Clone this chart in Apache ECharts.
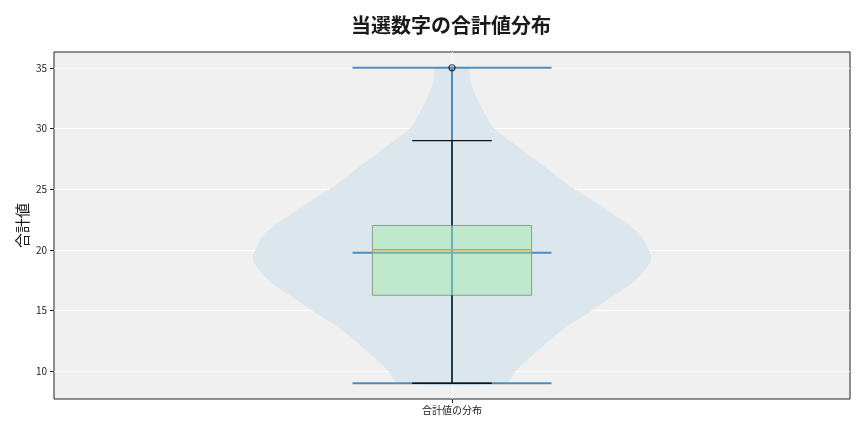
<!DOCTYPE html>
<html>
<head>
<meta charset="utf-8">
<script src="https://cdn.jsdelivr.net/npm/echarts@6/dist/echarts.min.js"></script>
<style>html,body{margin:0;padding:0;background:#fff}#c{width:864px;height:432px}</style>
</head>
<body>
<div id="c"></div>
<script>
// ---- data ----
const categories = ['合計値の分布'];
const titleText = '当選数字の合計値分布';
const yAxisName = '合計値';
// box plot statistics: lower whisker, Q1, median, Q3, upper whisker
const boxStats = [9, 16.25, 20, 22, 29];
const outliers = [35];
// violin extrema and mean
const violinMin = 9;
const violinMax = 35;
const violinMean = 19.75;
// violin outline: value and half-width (x data units)
const densityY = [9, 10, 11, 12, 13, 14, 15, 16, 17, 18, 19, 19.5, 20, 21, 22, 23, 24, 25, 26, 27, 28, 29, 30, 31, 32, 33, 34, 35];
const densityHalfWidth = [0.067, 0.080, 0.096, 0.113, 0.131, 0.152, 0.176, 0.198, 0.221, 0.238, 0.249, 0.250, 0.247, 0.239, 0.223, 0.200, 0.178, 0.153, 0.133, 0.113, 0.093, 0.072, 0.053, 0.043, 0.035, 0.028, 0.023, 0.020];
const yTicks = [10, 15, 20, 25, 30, 35];

const FONT = 'Noto Sans CJK JP';
const POS = 1;          // category position on x axis
const BOX_HALF = 0.1;
const CAP_HALF = 0.05;
const VBAR_HALF = 0.125;

const chart = echarts.init(document.getElementById('c'));

function line(api, a, b, style) {
  const p1 = api.coord(a), p2 = api.coord(b);
  return {type: 'line', shape: {x1: p1[0], y1: p1[1], x2: p2[0], y2: p2[1]}, style: style};
}

const option = {
  animation: false,
  backgroundColor: '#ffffff',
  title: {
    text: titleText,
    left: 446,
    top: 10,
    textAlign: 'center',
    textStyle: {fontFamily: FONT, fontSize: 20, fontWeight: 'bold', color: '#1a1a1a'}
  },
  grid: {
    left: 54, right: 14, top: 52, bottom: 33,
    show: true, backgroundColor: '#f0f0f0', borderColor: '#222', borderWidth: 1
  },
  xAxis: {
    type: 'value', min: 0.5, max: 1.5, interval: 0.5,
    axisLine: {show: false},
    axisTick: {show: true, customValues: [POS], length: 4, lineStyle: {color: '#222'}},
    axisLabel: {show: true, customValues: [POS], formatter: () => categories[0],
      fontFamily: FONT, fontSize: 10, color: '#222', margin: 6},
    splitLine: {show: true, lineStyle: {color: '#ffffff', width: 1}}
  },
  yAxis: {
    type: 'value', min: 7.7, max: 36.3,
    name: yAxisName, nameLocation: 'middle', nameGap: 24, nameMoveOverlap: false,
    nameTextStyle: {fontFamily: FONT, fontSize: 15, color: '#1a1a1a'},
    axisLine: {show: false},
    axisTick: {show: true, customValues: yTicks, length: 4, lineStyle: {color: '#222'}},
    axisLabel: {show: true, customValues: yTicks, fontFamily: FONT, fontSize: 10, color: '#222', margin: 7},
    splitLine: {show: true, lineStyle: {color: '#ffffff', width: 1}}
  },
  series: [
    {
      type: 'custom', z: 1, silent: true,
      data: [[POS]],
      renderItem: function (params, api) {
        const pts = [];
        for (let i = 0; i < densityY.length; i++) pts.push(api.coord([POS - densityHalfWidth[i], densityY[i]]));
        for (let i = densityY.length - 1; i >= 0; i--) pts.push(api.coord([POS + densityHalfWidth[i], densityY[i]]));
        return {type: 'polygon', shape: {points: pts, smooth: 0.3}, style: {fill: 'rgb(219,231,236)'}};
      }
    },
    {
      type: 'custom', z: 2, silent: true,
      data: [[POS]],
      renderItem: function (params, api) {
        const st = {stroke: '#4f8cbe', lineWidth: 2};
        return {type: 'group', children: [
          line(api, [POS, violinMin], [POS, violinMax], st),
          line(api, [POS - VBAR_HALF, violinMin], [POS + VBAR_HALF, violinMin], st),
          line(api, [POS - VBAR_HALF, violinMax], [POS + VBAR_HALF, violinMax], st),
          line(api, [POS - VBAR_HALF, violinMean], [POS + VBAR_HALF, violinMean], st)
        ]};
      }
    },
    {
      type: 'custom', z: 3, silent: true,
      data: [[POS]],
      renderItem: function (params, api) {
        const tl = api.coord([POS - BOX_HALF, boxStats[3]]);
        const br = api.coord([POS + BOX_HALF, boxStats[1]]);
        const wst = {stroke: '#111', lineWidth: 1.3};
        return {type: 'group', children: [
          {type: 'rect', shape: {x: tl[0], y: tl[1], width: br[0] - tl[0], height: br[1] - tl[1]},
            style: {fill: 'rgba(150,236,160,0.4)', stroke: '#8c9c92', lineWidth: 1}},
          line(api, [POS, boxStats[3]], [POS, boxStats[4]], wst),
          line(api, [POS, boxStats[1]], [POS, boxStats[0]], wst),
          line(api, [POS - CAP_HALF, boxStats[4]], [POS + CAP_HALF, boxStats[4]], wst),
          line(api, [POS - CAP_HALF, boxStats[0]], [POS + CAP_HALF, boxStats[0]], wst),
          line(api, [POS - BOX_HALF, boxStats[2]], [POS + BOX_HALF, boxStats[2]], {stroke: '#e09a3c', lineWidth: 1.6})
        ]};
      }
    },
    {
      type: 'scatter', z: 4, silent: true,
      data: outliers.map(v => [POS, v]),
      symbol: 'circle', symbolSize: 6,
      itemStyle: {color: 'rgba(0,0,0,0)', borderColor: '#111', borderWidth: 1.2}
    }
  ]
};
chart.setOption(option);
</script>
</body>
</html>
